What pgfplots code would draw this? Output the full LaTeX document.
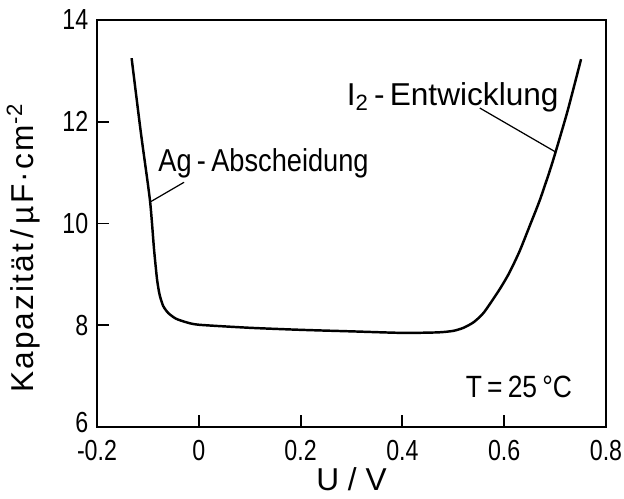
\documentclass[border=0pt]{standalone}
\usepackage{fontspec}
\setmainfont{Liberation Sans}
\newfontfamily\narrowfont[FakeStretch=0.86]{Liberation Sans}
\newfontfamily\tickfont[FakeStretch=0.8]{Liberation Sans}
\newfontfamily\widefont[LetterSpace=7]{Liberation Sans}
\usepackage{pgfplots}
\pgfplotsset{compat=1.18}

\begin{document}
\begin{tikzpicture}
\begin{axis}[
  scale only axis,
  width=10.18cm, height=8.14cm,
  xmin=-0.2, xmax=0.8,
  ymin=6, ymax=14,
  xtick={-0.2,0,0.2,0.4,0.6,0.8},
  xticklabels={-0.2,0,0.2,0.4,0.6,0.8},
  ytick={6,8,10,12,14},
  yticklabels={\raisebox{5pt}{6},8,10,12,14},
  tick align=inside,
  xtick pos=bottom, ytick pos=left,
  major tick length=0.24cm,
  axis line style={line width=1.7pt},
  tick style={line width=1.1pt, black},
  tick label style={font=\tickfont\fontsize{16.5}{19}\selectfont},
  label style={font=\fontsize{18}{21}\selectfont},
  xlabel={U / V},
  ylabel={\widefont Kapazität\,/\,µF·cm\textsuperscript{-2}},
  xlabel style={at={(axis description cs:0.5,-0.128)}, anchor=center},
  ylabel style={at={(axis description cs:-0.145,0.44)}, anchor=center},
  xticklabel style={yshift=-4pt},
  yticklabel style={xshift=-0.05cm},
  clip=false,
]
% capacity curve
\addplot[black, line width=1.4pt, smooth, tension=0.4] coordinates {
  (-0.132,13.25) (-0.114,11.8) (-0.096,10.46) (-0.088,9.5) (-0.082,8.9)
  (-0.077,8.6) (-0.070,8.38) (-0.060,8.24) (-0.045,8.13) (-0.025,8.06)
  (0.0,8.01) (0.1,7.95) (0.2,7.91) (0.3,7.88) (0.4,7.85) (0.47,7.86)
  (0.50,7.89) (0.52,7.95) (0.54,8.06) (0.56,8.25) (0.59,8.69) (0.61,9.03)
  (0.63,9.45) (0.65,9.95) (0.67,10.46) (0.69,11.05) (0.702,11.44)
  (0.725,12.23) (0.751,13.23)
};
% pointer lines
\addplot[black, line width=0.7pt] coordinates {(-0.029,10.81) (-0.096,10.42)};
\addplot[black, line width=0.7pt] coordinates {(0.552,12.27) (0.702,11.40)};
\node[anchor=west, inner sep=0pt, font=\narrowfont\fontsize{18}{21}\selectfont]
  at (axis cs:-0.080,11.19) {Ag\,-\,Abscheidung};
\node[anchor=west, inner sep=0pt, font=\fontsize{18}{21}\selectfont]
  at (axis cs:0.290,12.48) {I\textsubscript{2}\,-\,Entwicklung};
\node[inner sep=0pt, font=\narrowfont\fontsize{17.5}{20}\selectfont]
  at (axis cs:0.629,6.79) {T\,=\,25\,°C};
\end{axis}
\pgfresetboundingbox
\path ([shift={(-1.94cm,-1.42cm)}]current axis.south west)
  rectangle ([shift={(0.36cm,0.4cm)}]current axis.north east);
\end{tikzpicture}
\end{document}
